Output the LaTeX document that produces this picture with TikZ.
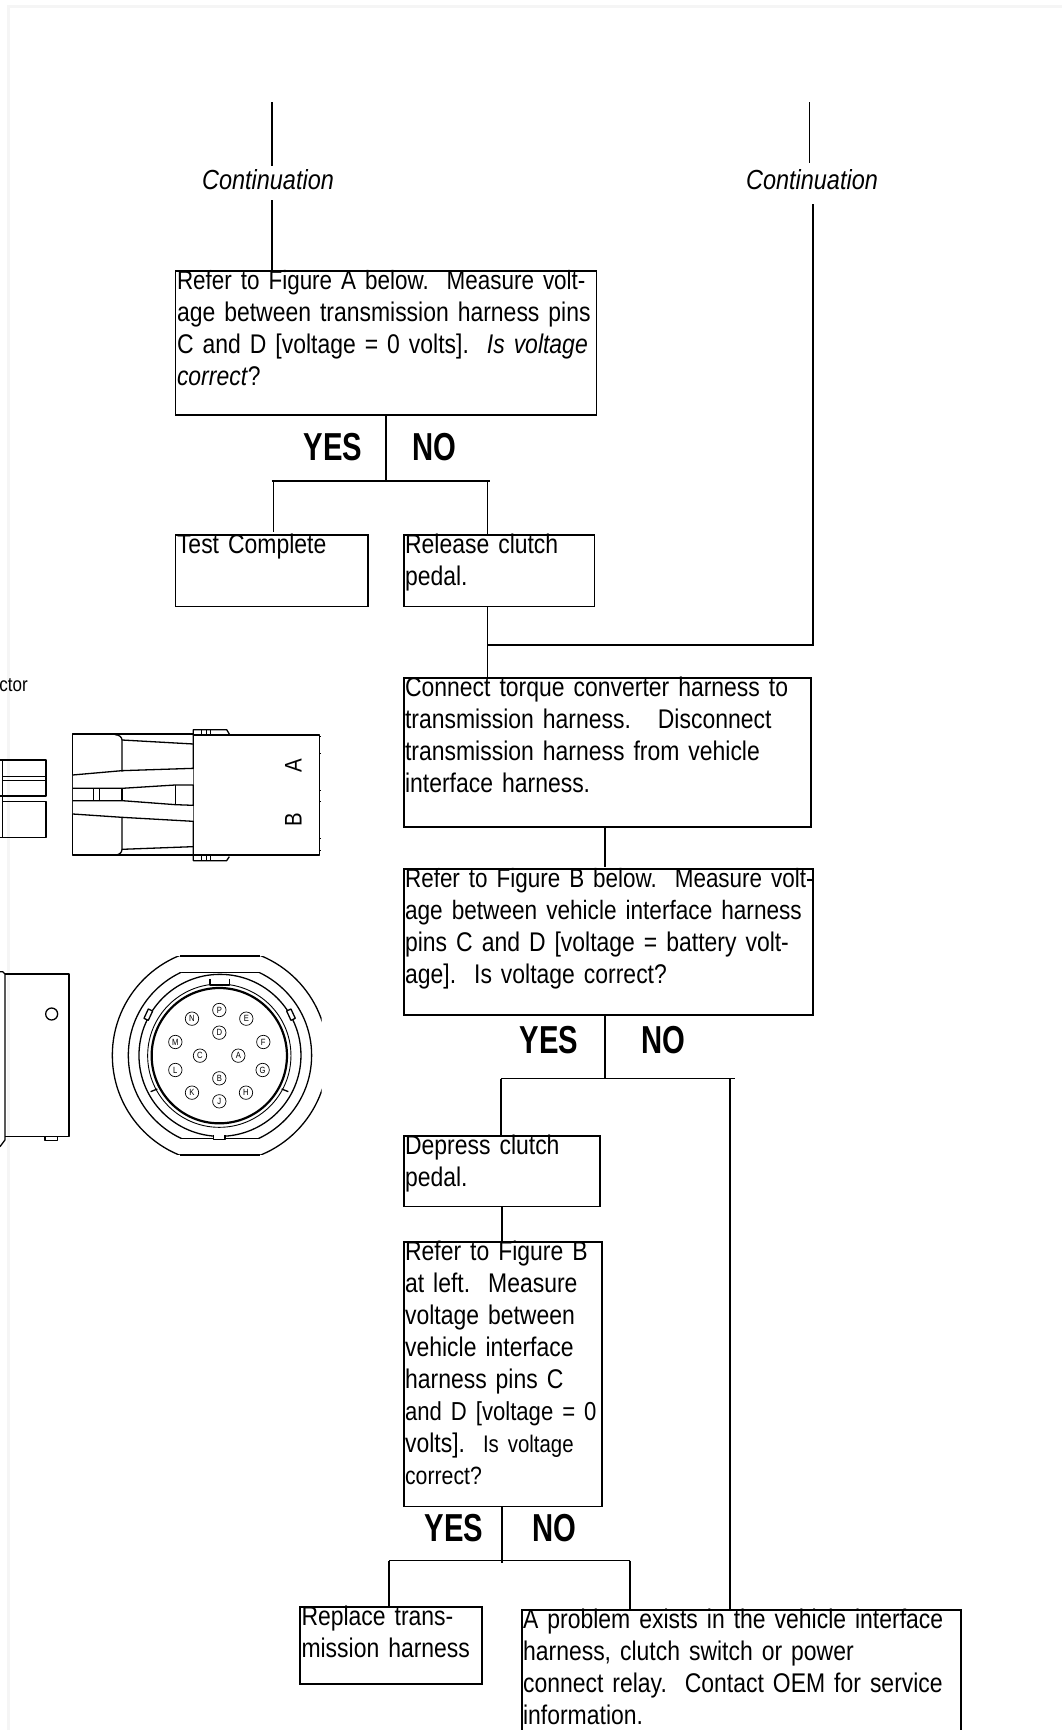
\documentclass[tikz,border=0pt]{standalone}
\usepackage{fontspec}
\setmainfont{Liberation Sans}[FakeStretch=0.85, WordSpace=0.7]
\newfontfamily\decisionfont{Liberation Sans}[FakeStretch=0.75]
\usepackage{tikz}
\usetikzlibrary{positioning,calc}
\definecolor{pageedge}{HTML}{F5F5F5}
\tikzset{
    flowbox/.style 2 args={rectangle, draw, line width=1.8pt, outer sep=0pt, inner xsep=1.5pt, inner ysep=0pt, align=left, anchor=north west, text width=#1pt-3pt, text height=18pt, text depth=#2pt-18pt, font=\fontsize{27}{32}\selectfont},
    contlabel/.style={rectangle, inner sep=0pt, outer sep=0pt, anchor=base, font=\fontsize{27.6}{32}\selectfont\itshape},
    decision/.style={rectangle, inner sep=0pt, font=\fontsize{39}{39}\decisionfont\bfseries},
    link/.style={line width=1.9pt},
    part/.style={line width=1.3pt, line join=round},
    thinpart/.style={line width=0.9pt},
    pinhole/.style={circle, draw, line width=0.7pt, inner sep=0pt, minimum size=13.4pt, font=\fontsize{9}{9}\selectfont}
}
\begin{document}
\begin{tikzpicture}[x=1pt, y=-1pt]
\useasboundingbox (0,0) rectangle (1062,1730);

% ── Page edge ──
\draw[pageedge, line width=2.7pt] (8.7,1730) -- (8.7,6.3) -- (1062,6.3);

% ── Continuations ──
\node[contlabel, text height=23pt, text depth=11pt] (contleft) at (268,189) {Continuation};
\node[contlabel, text height=26pt, text depth=15pt] (contright) at (812,189) {Continuation};

% ── First check ──
\node[flowbox={421}{143.6}] (checkzeroA) at (175.5,271) {
    \mbox{\fontsize{26.4}{32}\selectfont Refer to Figure A below.\ \ Measure volt-}\\
    age between transmission harness pins\\
    C and D [voltage = 0 volts].\ \ \textit{Is voltage}\\
    \textit{correct}?
};
\node[flowbox={192.5}{71.5}, below=120.4pt of checkzeroA.south west, anchor=north west] (testdone) {Test Complete};
\node[flowbox={190.8}{71.5}, right=35.6pt of testdone.north east, anchor=north west] (release) {
    Release clutch\\
    pedal.
};

% ── Harness checks ──
\node[flowbox={407}{149}, below=71.5pt of release.south west, anchor=north west] (connect) {
    Connect torque converter harness to\\
    transmission harness.\ \ \ Disconnect\\
    transmission harness from vehicle\\
    interface harness.
};
\node[flowbox={409.2}{145.6}, below=42pt of connect.south west, anchor=north west] (checkbatt) {
    \mbox{\fontsize{26.4}{32}\selectfont Refer to Figure B below.\ \ Measure volt-}\\
    \mbox{\fontsize{26.6}{32}\selectfont age between vehicle interface harness}\\
    pins C and D [voltage = battery volt-\\
    age].\ \ Is voltage correct?
};
\node[flowbox={196.4}{70.5}, below=121.4pt of checkbatt.south west, anchor=north west] (depress) {
    Depress clutch\\
    pedal.
};
\node[flowbox={198.4}{264.4}, below=35.5pt of depress.south west, anchor=north west] (checkzeroB) {
    Refer to Figure B\\
    at left.\ \ Measure\\
    voltage between\\
    vehicle interface\\
    harness pins C\\
    \mbox{\fontsize{26}{32}\selectfont and D [voltage = 0}\\
    volts].\ \ {\fontsize{24}{32}\selectfont Is voltage}\\
    {\fontsize{25}{32}\selectfont correct?}
};

% ── Outcomes ──
\node[flowbox={182}{77}, below left=100.6pt and 103.6pt of checkzeroB.south west, anchor=north west] (replace) {
    Replace trans-\\
    mission harness
};
\node[flowbox={439}{200}, below right=103.6pt and 118pt of checkzeroB.south west, anchor=north west] (problem) {
    A problem exists in the vehicle interface\\
    harness, clutch switch or power\\
    connect relay.\ \ Contact OEM for service\\
    information.
};

% ── YES / NO labels ──
\node[decision] (yesA) at (333,447) {YES};
\node[decision] (noA) at (434.5,447) {NO};
\node[decision] (yesB) at (549,1040) {YES};
\node[decision] (noB) at (663,1040) {NO};
\node[decision] (yesC) at (454,1528) {YES};
\node[decision] (noC) at (554.7,1528) {NO};

% ── Forks ──
\coordinate (lefttop) at (272,102);
\coordinate (righttop) at (809.5,102);
\coordinate (rightjoin) at (813,645);
\coordinate (forkA) at (386,481);
\coordinate (forkAl) at (271.5,481);
\coordinate (forkAr) at (489.6,481);
\coordinate (dropAl) at (273.5,481);
\coordinate (dropAr) at (487.5,481);
\coordinate (forkB) at (605.4,1078.5);
\coordinate (forkBl) at (500.7,1078.5);
\coordinate (forkBr) at (734.5,1078.5);
\coordinate (dropBr) at (730,1078.5);
\coordinate (forkC) at (501.8,1560.5);
\coordinate (forkCl) at (389,1560.5);
\coordinate (forkCr) at (629.7,1560.5);

% ── Connectors ──
\draw[link] (lefttop) -- (lefttop |- contleft.north);
\draw[link] (lefttop |- contleft.south) -- (lefttop |- checkzeroA.north);
\draw[link] (righttop) -- (righttop |- contright.north);
\draw[link] (rightjoin |- contright.south) -- (rightjoin) -- (rightjoin -| dropAr);
\draw[link] (checkzeroA.south) -- (forkA);
\draw[link] (forkAl) -- (forkAr);
\draw[link, shorten >=3pt] (dropAl) -- (dropAl |- testdone.north);
\draw[link] (dropAr) -- (dropAr |- release.north);
\draw[link] (dropAr |- release.south) -- (dropAr |- connect.north);
\draw[link, shorten >=2.5pt] (forkB |- connect.south) -- (forkB |- checkbatt.north);
\draw[link] (forkB |- checkbatt.south) -- (forkB);
\draw[link] (forkBl) -- (forkBr);
\draw[link] (forkBl) -- (forkBl |- depress.north);
\draw[link] (dropBr) -- (dropBr |- problem.north);
\draw[link] (forkC |- depress.south) -- (forkC |- checkzeroB.north);
\draw[link] (forkC |- checkzeroB.south) -- ($(forkC)+(0,2)$);
\draw[link] (forkCl) -- (forkCr);
\draw[link] (forkCl) -- (forkCl |- replace.north);
\draw[link] (forkCr) -- (forkCr |- problem.north);

% ── Figure A ──
\node[anchor=base east, inner sep=0pt, font=\fontsize{20}{20}\selectfont] (figA) at (28,691) {ctor};
\begin{scope}[shift={(0,660)}, x=0.3333pt, y=-0.3333pt]
    \draw[part] (0,300) -- (138,300) -- (138,408) -- (0,408);
    \draw[part] (8,300) -- (8,535);
    \draw[part] (8,425) -- (138,425) -- (138,532) -- (0,532);
    \draw[thinpart] (8,350) -- (138,350);
    \draw[thinpart] (8,360) -- (138,360);
    \draw[part] (218,222) rectangle (580,585);
    \draw[part] (580,225) rectangle (958,585);
    \draw[part] (580,225) -- (580,209) -- (680,209) -- (688,222);
    \draw[part] (580,585) -- (580,602) -- (680,602) -- (688,590);
    \foreach \tabx in {604,618,630} {
        \draw[thinpart] (\tabx,209) -- (\tabx,225);
        \draw[thinpart] (\tabx,585) -- (\tabx,602);
    }
    \draw[fill=white, draw=none] (219,345) -- (366,332) -- (580,325) -- (580,484) -- (366,472) -- (219,462) -- cycle;
    \draw[part] (218,345) -- (366,332) -- (580,325) -- (580,225);
    \draw[part] (345,224) .. controls (358,224) and (366,232) .. (366,240) -- (366,335);
    \draw[part] (366,240) -- (580,252);
    \draw[part] (218,385) -- (366,385) -- (526,375) -- (580,375) -- (580,436) -- (526,434) -- (366,422) -- (218,422);
    \draw[part] (526,375) -- (526,434);
    \draw[part] (366,385) -- (366,422);
    \draw[thinpart] (280,385) -- (280,422);
    \draw[thinpart] (298,385) -- (298,422);
    \draw[part] (218,462) -- (366,472) -- (580,484) -- (580,585);
    \draw[part] (366,472) -- (366,568) .. controls (366,578) and (358,585) .. (345,585);
    \draw[part] (366,568) -- (580,560);
    \foreach \ticky in {230,280,390,425,535,570} {
        \draw[thinpart] (958,\ticky) -- (964,\ticky);
    }
    \node[rotate=90, inner sep=0pt, font=\fontsize{24}{24}\selectfont] (pinA) at (880,317) {A};
    \node[rotate=90, inner sep=0pt, font=\fontsize{24}{24}\selectfont] (pinB) at (880,480) {B};
\end{scope}

% ── Figure B ──
\begin{scope}[shift={(0,940)}, x=0.3333pt, y=-0.3333pt]
    \draw[part] (15,102) -- (207,102) -- (207,590) -- (15,590);
    \draw[part] (0,95) -- (8,95) -- (15,102) -- (15,600) -- (0,620);
    \draw[part] (155,222) circle[radius=18];
    \draw[part] (135,590) -- (135,602) -- (172,602) -- (172,590);
    % housing rings
    \begin{scope}
        \clip (300,48) rectangle (965,645);
        \draw[part] (660,346) circle[radius=323];
    \end{scope}
    \draw[part] (540,48) -- (780,48);
    \draw[part] (540,645) -- (780,645);
    \begin{scope}
        \clip (300,97) rectangle (965,595);
        \draw[part] (660,346) circle[radius=275];
    \end{scope}
    \draw[part] (545,97) -- (775,97);
    \draw[part] (545,595) -- (775,595);
    \draw[part] (660,346) circle[radius=243];
    \draw[thinpart] (658,347) circle[radius=215];
    \draw[line width=2.2pt] (658,347) circle[radius=203];
    % keys
    \draw[part, fill=white] (630,118) -- (630,135) -- (688,135) -- (688,118);
    \draw[part, fill=white] (640,585) -- (640,598) -- (675,598) -- (675,585);
    \draw[part, fill=white] (432,235) -- (445,207) -- (458,213) -- (445,241) -- cycle;
    \draw[part, fill=white] (860,213) -- (873,207) -- (886,235) -- (873,241) -- cycle;
    \draw[part] (452,455) -- (472,447);
    \draw[part] (845,447) -- (865,455);
    % pins
    \foreach \pinname/\pinx/\piny in {P/658/210, N/576/236, E/739/236, D/658/278, M/526/306, F/790/306, C/600/347, A/715/347, L/526/390, G/788/390, B/658/415, K/576/458, H/738/458, J/658/484} {
        \node[pinhole] (socket\pinname) at (\pinx,\piny) {\pinname};
    }
\end{scope}

\end{tikzpicture}
\end{document}
